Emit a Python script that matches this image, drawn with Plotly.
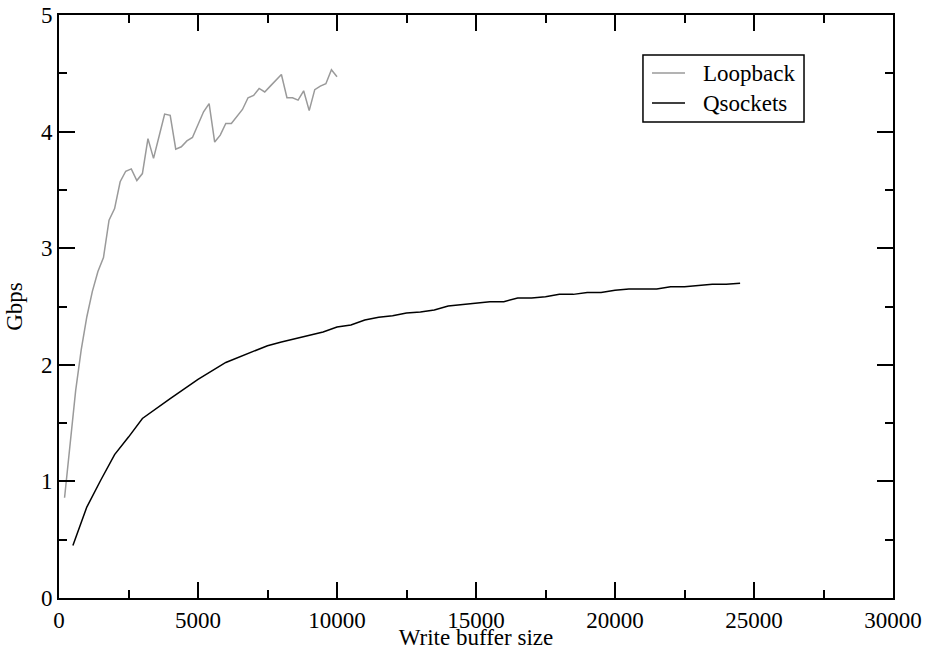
import plotly.graph_objects as go

# Loopback series (write buffer size, Gbps)
loop_x = [200, 400, 600, 800, 1000, 1200, 1400, 1600, 1800, 2000,
          2200, 2400, 2600, 2800, 3000, 3200, 3400, 3600, 3800, 4000,
          4200, 4400, 4600, 4800, 5000, 5200, 5400, 5600, 5800, 6000,
          6200, 6400, 6600, 6800, 7000, 7200, 7400, 7600, 7800, 8000,
          8200, 8400, 8600, 8800, 9000, 9200, 9400, 9600, 9800, 10000]
loop_y = [0.86, 1.33, 1.78, 2.13, 2.41, 2.63, 2.80, 2.92, 3.24, 3.34,
          3.57, 3.66, 3.68, 3.58, 3.64, 3.94, 3.77, 3.96, 4.15, 4.14,
          3.85, 3.87, 3.92, 3.95, 4.06, 4.17, 4.24, 3.91, 3.97, 4.07,
          4.07, 4.13, 4.19, 4.29, 4.31, 4.37, 4.34, 4.39, 4.44, 4.49,
          4.29, 4.29, 4.27, 4.35, 4.18, 4.36, 4.39, 4.41, 4.53, 4.47]

# Qsockets series
qs_x = [500, 1000, 1500, 2000, 2500, 3000, 4000, 5000, 6000, 7500,
        8000, 8500, 9000, 9500, 10000, 10500, 11000, 11500, 12000, 12500,
        13000, 13500, 14000, 14500, 15000, 15500, 16000, 16500, 17000, 17500,
        18000, 18500, 19000, 19500, 20000, 20500, 21000, 21500, 22000, 22500,
        23000, 23500, 24000, 24500]
qs_y = [0.45, 0.78, 1.01, 1.23, 1.38, 1.54, 1.71, 1.876, 2.02, 2.164,
        2.195, 2.225, 2.255, 2.281, 2.324, 2.341, 2.384, 2.407, 2.421, 2.444,
        2.453, 2.47, 2.504, 2.515, 2.527, 2.541, 2.541, 2.573, 2.573, 2.584,
        2.604, 2.604, 2.62, 2.62, 2.64, 2.65, 2.65, 2.65, 2.67, 2.67,
        2.68, 2.69, 2.69, 2.70]

x_ticks = [0, 5000, 10000, 15000, 20000, 25000, 30000]
y_ticks = [0, 1, 2, 3, 4, 5]

series_names = ["Loopback", "Qsockets"]
series_colors = ["#9a9a9a", "black"]

FONT = "Liberation Serif"
TICK_SIZE = 23
TITLE_SIZE = 23

fig = go.Figure()
fig.add_trace(go.Scatter(x=loop_x, y=loop_y, mode="lines", name=series_names[0],
                         line=dict(color=series_colors[0], width=1.5)))
fig.add_trace(go.Scatter(x=qs_x, y=qs_y, mode="lines", name=series_names[1],
                         line=dict(color=series_colors[1], width=1.5)))

axis_common = dict(
    showline=True, linecolor="black", linewidth=2, mirror="allticks",
    ticks="inside", ticklen=16, tickwidth=1.5, tickcolor="black",
    showgrid=False, zeroline=False, automargin=False,
    ticklabeloverflow="allow",
    tickfont=dict(family=FONT, size=TICK_SIZE, color="black"),
    title_font=dict(family=FONT, size=TITLE_SIZE, color="black"),
)

fig.update_xaxes(range=[0, 30000], tickvals=x_ticks,
                 ticktext=[str(v) for v in x_ticks],
                 minor=dict(dtick=2500, tick0=0, ticks="inside", ticklen=8,
                            tickwidth=1.5, tickcolor="black", showgrid=False),
                 title=dict(text="Write buffer size", standoff=3),
                 **axis_common)
fig.update_yaxes(range=[0, 5], tickvals=y_ticks,
                 ticktext=[str(v) for v in y_ticks],
                 minor=dict(dtick=0.5, tick0=0, ticks="inside", ticklen=8,
                            tickwidth=1.5, tickcolor="black", showgrid=False),
                 title=dict(text="Gbps", standoff=12),
                 **axis_common)

# Legend box drawn in paper coordinates (frame, sample lines, labels)
box = dict(x0=0.7002, x1=0.8933, y0=0.8165, y1=0.9314)
item_y = [0.9005, 0.8490]
shapes = [dict(type="rect", xref="paper", yref="paper", line=dict(color="black", width=1.5),
               fillcolor="white", layer="above", **box)]
annotations = []
for name, color, yy in zip(series_names, series_colors, item_y):
    shapes.append(dict(type="line", xref="paper", yref="paper", x0=0.7110, x1=0.7506,
                       y0=yy, y1=yy, line=dict(color=color, width=1.5), layer="above"))
    annotations.append(dict(text=name, xref="paper", yref="paper", x=0.7698, y=yy,
                            xanchor="left", yanchor="middle", showarrow=False,
                            font=dict(family=FONT, size=TITLE_SIZE, color="black")))

fig.update_layout(
    width=925, height=650,
    margin=dict(l=59, r=32, t=15, b=52),
    plot_bgcolor="white", paper_bgcolor="white",
    font=dict(family=FONT, size=TICK_SIZE, color="black"),
    showlegend=False,
    shapes=shapes,
    annotations=annotations,
)

fig.write_html(
    "out.html",
    config={"displayModeBar": False},
    post_script="document.body.style.margin='0';document.body.style.overflow='hidden';",
)
